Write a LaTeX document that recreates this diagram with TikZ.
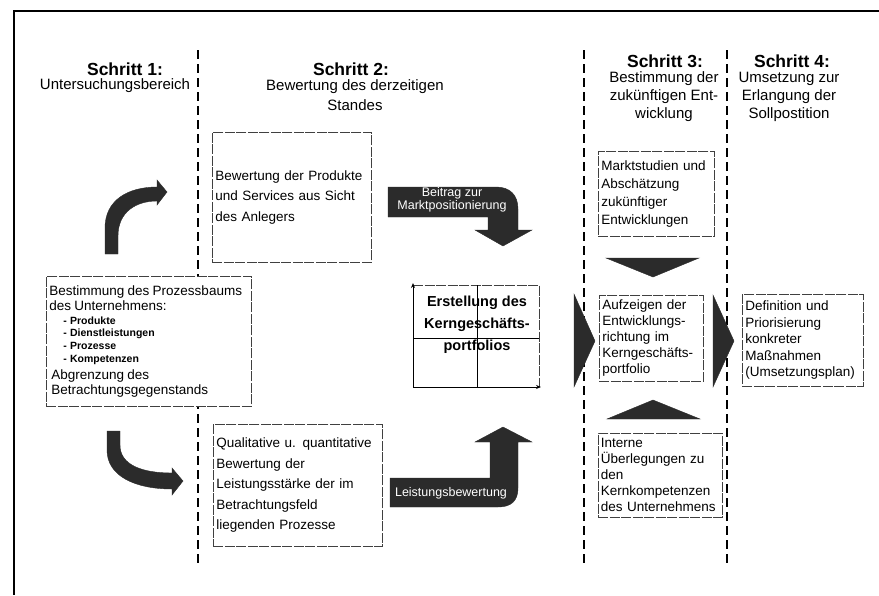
\documentclass[tikz,border=0pt]{standalone}
\usepackage{fontspec}
\setmainfont{Liberation Sans}
\usetikzlibrary{arrows.meta}

\definecolor{arrowgray}{gray}{0.17}

\tikzset{
  divider/.style={line width=1.3pt, dash pattern=on 9pt off 5pt},
  infobox/.style={draw=black!75, line width=0.6pt, dash pattern=on 10pt off 1.5pt,
    fill=white, align=left, inner xsep=3pt, inner ysep=0pt, anchor=north west},
  steptitle/.style={font=\fontsize{17.5}{19}\selectfont\bfseries},
  stepsub/.style={font=\fontsize{15}{18}\selectfont, align=center},
  bigarrow/.style={fill=arrowgray, draw=arrowgray, line width=0.4pt},
  arrowtext/.style={text=white, font=\fontsize{12.5}{13}\selectfont, align=center},
}

\begin{document}
\begin{tikzpicture}[x=1pt,y=-1pt]
\useasboundingbox (0,0) rectangle (879,595);

% frame
\draw[line width=1.6pt] (879,11) -- (14,11) -- (14,595);

% column dividers
\foreach \x in {198,584,727} \draw[divider] (\x,50) -- (\x,567);

% headings
\node[steptitle] (s1) at (125,69) {Schritt 1:};
\node[stepsub] (s1sub) at (115,86) {Untersuchungsbereich};
\node[steptitle] (s2) at (351,69) {Schritt 2:};
\node[stepsub, font=\fontsize{15}{20}\selectfont] (s2sub) at (355,95) {Bewertung des derzeitigen\\Standes};
\node[steptitle] (s3) at (665,61) {Schritt 3:};
\node[stepsub] (s3sub) at (664,97) {Bestimmung der\\zukünftigen Ent-\\wicklung};
\node[steptitle] (s4) at (792,61) {Schritt 4:};
\node[stepsub] (s4sub) at (789,97) {Umsetzung zur\\Erlangung der\\Sollpostition};

% step 1
\node[infobox, text width=199pt, minimum height=130pt] (procbox) at (46,276)
 {{\fontsize{13.5}{15}\selectfont Bestimmung des Prozessbaums\\des Unternehmens:\par}
  \vspace{1pt}
  {\fontsize{10.5}{12.7}\selectfont\bfseries\leftskip=14pt - Produkte\\- Dienstleistungen\\- Prozesse\\- Kompetenzen\par}
  \vspace{2pt}
  {\fontsize{13.5}{15}\selectfont\leftskip=2pt Abgrenzung des\\Betrachtungsgegenstands\par}};

\fill[bigarrow] (105,254) -- (105,228) .. controls (105,200) and (128,187) .. (157,187)
  -- (157,180) -- (167,192) -- (157,205) -- (157,201)
  .. controls (136,201) and (118,212) .. (118,236) -- (118,254) -- cycle;
\fill[bigarrow] (107,431) -- (107,450) .. controls (107,476) and (135,489) .. (172,489)
  -- (172,495) -- (183,481) -- (172,468) -- (172,473)
  .. controls (142,473) and (120,465) .. (120,445) -- (120,431) -- cycle;

% step 2
\node[infobox, text width=153pt, minimum height=130pt, font=\fontsize{13.5}{20.5}\selectfont] (prodbox) at (212,132)
 {Bewertung der Produkte\\und Services aus Sicht\\des Anlegers};
\node[infobox, text width=163pt, minimum height=122pt, font=\fontsize{13.5}{20.5}\selectfont] (qualbox) at (213,424)
 {Qualitative u. quantitative\\Bewertung der\\Leistungsstärke der im\\Betrachtungsfeld\\liegenden Prozesse};

\fill[bigarrow] (388,187) -- (496,187) .. controls (510,187) and (518,195) .. (518,209)
  -- (518,230) -- (532,230) -- (503,246) -- (475,230) -- (488,230) -- (488,217) -- (388,217) -- cycle;
\node[arrowtext] (arrtop) at (452,200) {Beitrag zur\\Marktpositionierung};
\fill[bigarrow] (390,478) -- (490,478) -- (490,442) -- (475,442) -- (503,427) -- (532,442) -- (518,442)
  -- (518,488) .. controls (518,501) and (511,507) .. (498,507) -- (390,507) -- cycle;
\node[arrowtext] (arrbot) at (451,493) {Leistungsbewertung};

% portfolio
\draw[draw=black!75, line width=0.6pt, dash pattern=on 10pt off 1.5pt] (413,285) -- (539,285) -- (539,387);
\draw[line width=0.9pt] (477,285) -- (477,387)  (413,338) -- (539,338);
\draw[line width=1pt, -{Stealth[length=5pt,width=4pt]}] (413,387) -- (413,283);
\draw[line width=1pt, -{Stealth[length=5pt,width=4pt]}] (413,387) -- (541,387);
\node[font=\fontsize{14.5}{22}\selectfont\bfseries, align=center] (portfolio) at (477,325)
 {Erstellung des\\Kerngeschäfts-\\portfolios};

% step 3
\node[infobox, text width=110pt, minimum height=85pt, font=\fontsize{13.5}{18}\selectfont] (marktbox) at (598,151)
 {Marktstudien und\\Abschätzung\\zukünftiger\\Entwicklungen};
\node[infobox, text width=98pt, minimum height=86pt, font=\fontsize{13.5}{16}\selectfont] (aufzbox) at (599,295)
 {Aufzeigen der\\Entwicklungs-\\richtung im\\Kerngeschäfts-\\portfolio};
\node[infobox, text width=119pt, inner xsep=2.5pt, minimum height=84pt, font=\fontsize{13.5}{16}\selectfont] (intbox) at (598,433)
 {Interne\\Überlegungen zu\\den\\Kernkompetenzen\\des Unternehmens};

\fill[bigarrow] (606,258) -- (699,258) -- (653,277) -- cycle;
\fill[bigarrow] (607,419) -- (700,419) -- (653,400) -- cycle;

% step 4
\node[infobox, text width=115pt, minimum height=92pt, font=\fontsize{13.5}{16.5}\selectfont] (defbox) at (742,294)
 {Definition und\\Priorisierung\\konkreter\\Maßnahmen\\(Umsetzungsplan)};

% chevrons
\fill[bigarrow] (574,294) -- (595,341) -- (574,387) -- cycle;
\fill[bigarrow] (713,295) -- (734,341) -- (713,387) -- cycle;

\end{tikzpicture}
\end{document}
